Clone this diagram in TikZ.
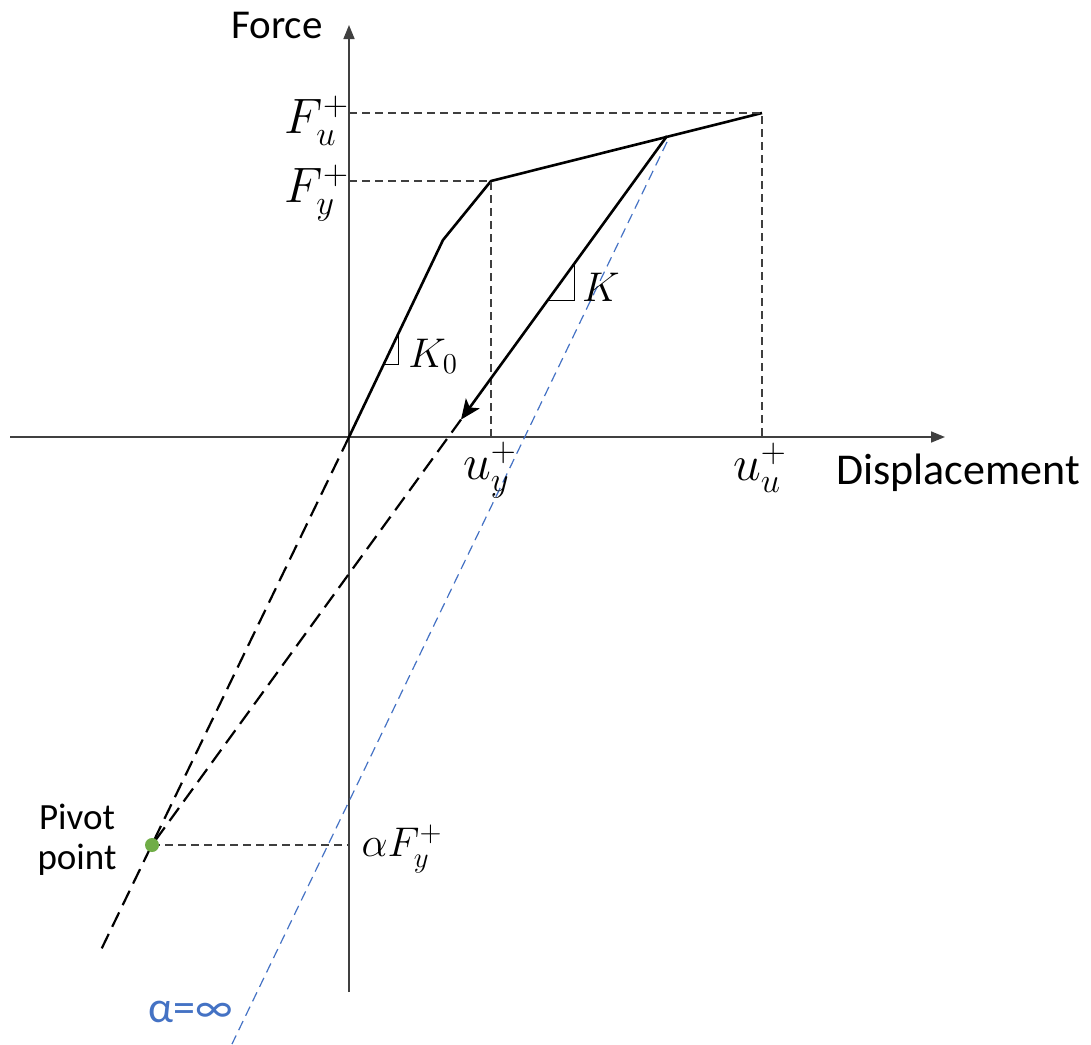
\documentclass[tikz,border=0pt]{standalone}
\usepackage{fontspec}
\setmainfont{Carlito}
\usetikzlibrary{arrows.meta,calc}
\definecolor{cAxis}{HTML}{404040}
\definecolor{cGuide}{HTML}{3F3F3F}
\definecolor{cInf}{HTML}{4472C4}
\definecolor{cPivot}{HTML}{70AD47}

\begin{document}
\begin{tikzpicture}[
  x=0.5pt, y=-0.5pt,
  font=\fontsize{22}{27}\selectfont,
  axis/.style={-{Triangle[length=7pt,width=5.5pt]}, draw=cAxis, line width=0.8pt},
  curve/.style={line width=1.3pt, line join=round},
  guide/.style={draw=cGuide, line width=0.55pt, dash pattern=on 4pt off 2.5pt},
  ext/.style={line width=1.1pt, dash pattern=on 8pt off 4pt},
  infline/.style={draw=cInf, line width=0.6pt, dash pattern=on 5pt off 3pt},
  slope/.style={line width=0.6pt},
  lbl/.style={inner sep=0pt},
  big/.style={lbl, font=\fontsize{24.5}{28}\selectfont},
]
\useasboundingbox (0,0) rectangle (1091,1044);

% ---------------- axes ----------------
\coordinate (O)  at (349,437);
\coordinate (xl) at (10,437);
\coordinate (xr) at (945,437);
\coordinate (yb) at (349,992);
\coordinate (yt) at (349,25);
\draw[axis] (xl) -- (xr);
\draw[axis] (yb) -- (yt);
\node (force) [lbl, font=\fontsize{20.5}{24}\selectfont] at (277,25) {Force};
\node (disp)  [lbl] at (958,473) {Displacement};

% ---------------- backbone ----------------
\coordinate (b1) at (443,240);
\coordinate (Y)  at (491,181);
\coordinate (U)  at (762,113);
\coordinate (R)  at (667,136);
\coordinate (P)  at (152,845);
\coordinate (kend) at (100,952);
\draw[curve] (O) -- (b1) -- (Y) -- (U);

% guide lines
\draw[guide] (O |- U) -- (U) -- (U |- O);
\draw[guide] (O |- Y) -- (Y) -- (Y |- O);
\draw[guide] (P) -- (O |- P);

% ---------------- unloading towards pivot ----------------
\coordinate (A) at ($(R)!0.4!(P)$);
\draw[curve, -{Stealth[length=10pt,width=8.5pt,inset=2.5pt]}] (R) -- (A);
\draw[ext] (A) -- (P);
\draw[ext] (O) -- (kend);

% alpha = infinity line
\coordinate (itop) at (667,142);
\coordinate (ibot) at (232,1044);
\draw[infline] (itop) -- (ibot);

% slope triangles
\coordinate (t0) at ($(O)!0.53!(b1)$);
\draw[slope] (t0) -- ++(0,32) -- ++(-15.3,0);
\coordinate (t1) at ($(R)!0.18!(P)$);
\draw[slope] (t1) -- ++(0,37) -- ++(-26.9,0);

% pivot point
\node (piv) [circle, fill=cPivot, inner sep=0pt, minimum size=7pt] at (P) {};

% ---------------- labels ----------------
\node (Fu) [big] at (317,121) {$F_u^+$};
\node (Fy) [big] at (317,193) {$F_y^+$};
\node (uy) [big] at (490,470) {$u_y^+$};
\node (uu) [big] at (760,468) {$u_u^+$};
\node (K0) [lbl, anchor=west] at (408,356) {$K_0$};
\node (K)  [lbl] at (601,287) {$K$};
\node (aF) [lbl] at (402,849) {$\alpha F_y^+$};
\node (pivlbl) [lbl, align=center, font=\fontsize{18.5}{20}\selectfont] at (77,840) {Pivot\\point};
\node (inf) [lbl, text=cInf] at (191,1012) {α=∞};

\end{tikzpicture}
\end{document}
